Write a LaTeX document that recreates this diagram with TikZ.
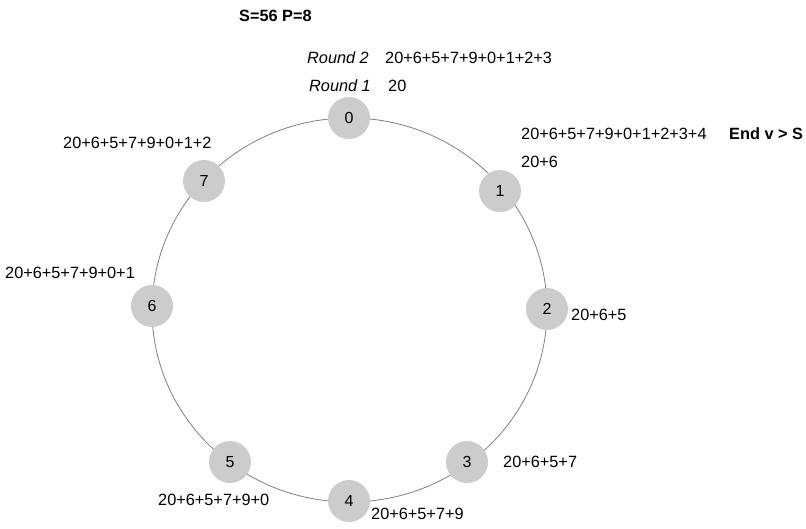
\documentclass[tikz,border=0pt]{standalone}
\usepackage{fontspec}
\setmainfont{Liberation Sans}
\definecolor{peergray}{RGB}{204,204,204}
\definecolor{ringgray}{RGB}{128,128,128}

\begin{document}
\begin{tikzpicture}[x=1pt, y=-1pt,
    peer/.style={circle, fill=peergray, minimum size=42pt, inner sep=0pt, font=\fontsize{16}{19}\selectfont},
    sum/.style={anchor=west, inner sep=0pt, font=\fontsize{16.3}{19}\selectfont},
]
\useasboundingbox (0,0) rectangle (806,529);

% ring of peers
\coordinate (ring) at (349.5,310);
\draw[ringgray, line width=0.8pt] (ring) ellipse [x radius=197.5, y radius=192];

\node[peer] (p0) at (349,118) {0};
\node[peer] (p1) at (500,191) {1};
\node[peer] (p2) at (547,309) {2};
\node[peer] (p3) at (467,462) {3};
\node[peer] (p4) at (349,501) {4};
\node[peer] (p5) at (230,462) {5};
\node[peer] (p6) at (152,306) {6};
\node[peer] (p7) at (204,181) {7};

% partial sums
\node[sum, font=\fontsize{16.3}{19}\selectfont\bfseries] (title) at (239,16) {S=56 P=8};
\node[sum, font=\fontsize{16.3}{19}\selectfont\itshape] (round2) at (307,58) {Round 2};
\node[sum] (r2sum) at (385,58) {20+6+5+7+9+0+1+2+3};
\node[sum, font=\fontsize{16.3}{19}\selectfont\itshape] (round1) at (309,86) {Round 1};
\node[sum] (r1sum) at (388,86) {20};
\node[sum] (sum1b) at (521,134) {20+6+5+7+9+0+1+2+3+4};
\node[sum, font=\fontsize{16.3}{19}\selectfont\bfseries] (endnote) at (729,134) {End v > S};
\node[sum] (sum1) at (521,162) {20+6};
\node[sum] (sum2) at (571,315) {20+6+5};
\node[sum] (sum3) at (503,462) {20+6+5+7};
\node[sum] (sum4) at (371,514) {20+6+5+7+9};
\node[sum] (sum5) at (158,500) {20+6+5+7+9+0};
\node[sum] (sum6) at (5,273) {20+6+5+7+9+0+1};
\node[sum] (sum7) at (63,143) {20+6+5+7+9+0+1+2};
\end{tikzpicture}
\end{document}
